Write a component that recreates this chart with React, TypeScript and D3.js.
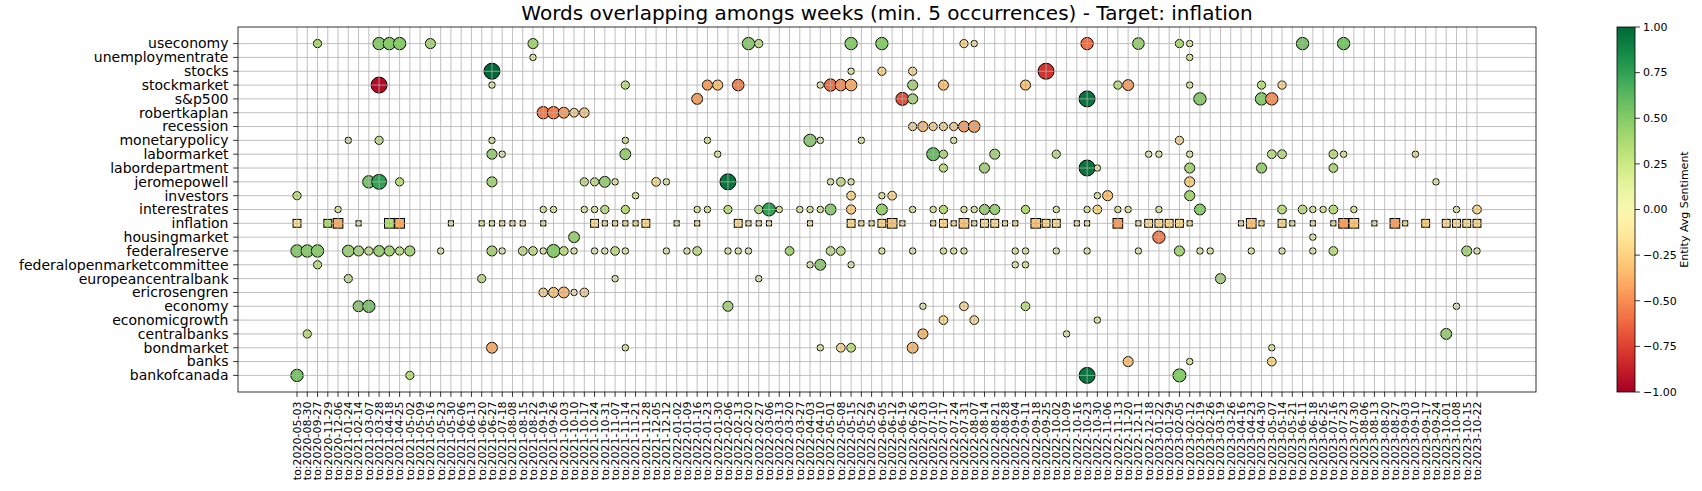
import React from "react";
import * as d3 from "d3";

const weeks: string[] = [
  "to:2020-05-03", "to:2020-08-30", "to:2020-09-27", "to:2020-11-29", "to:2020-12-06",
  "to:2021-01-24", "to:2021-02-14", "to:2021-03-07", "to:2021-03-28", "to:2021-04-18",
  "to:2021-04-25", "to:2021-05-02", "to:2021-05-09", "to:2021-05-16", "to:2021-05-23",
  "to:2021-05-30", "to:2021-06-06", "to:2021-06-13", "to:2021-06-20", "to:2021-06-27",
  "to:2021-07-18", "to:2021-08-08", "to:2021-08-15", "to:2021-08-22", "to:2021-09-19",
  "to:2021-09-26", "to:2021-10-03", "to:2021-10-10", "to:2021-10-17", "to:2021-10-24",
  "to:2021-10-31", "to:2021-11-07", "to:2021-11-14", "to:2021-11-21", "to:2021-11-28",
  "to:2021-12-05", "to:2021-12-12", "to:2022-01-02", "to:2022-01-09", "to:2022-01-16",
  "to:2022-01-23", "to:2022-01-30", "to:2022-02-06", "to:2022-02-13", "to:2022-02-20",
  "to:2022-02-27", "to:2022-03-06", "to:2022-03-13", "to:2022-03-20", "to:2022-03-27",
  "to:2022-04-03", "to:2022-04-10", "to:2022-05-01", "to:2022-05-08", "to:2022-05-15",
  "to:2022-05-22", "to:2022-05-29", "to:2022-06-05", "to:2022-06-12", "to:2022-06-19",
  "to:2022-06-26", "to:2022-07-03", "to:2022-07-10", "to:2022-07-17", "to:2022-07-24",
  "to:2022-07-31", "to:2022-08-07", "to:2022-08-14", "to:2022-08-21", "to:2022-08-28",
  "to:2022-09-04", "to:2022-09-11", "to:2022-09-18", "to:2022-09-25", "to:2022-10-02",
  "to:2022-10-09", "to:2022-10-16", "to:2022-10-23", "to:2022-10-30", "to:2022-11-06",
  "to:2022-11-13", "to:2022-11-20", "to:2022-12-11", "to:2022-12-18", "to:2023-01-22",
  "to:2023-01-29", "to:2023-02-05", "to:2023-02-12", "to:2023-02-19", "to:2023-02-26",
  "to:2023-03-19", "to:2023-03-26", "to:2023-04-16", "to:2023-04-23", "to:2023-04-30",
  "to:2023-05-07", "to:2023-05-14", "to:2023-05-21", "to:2023-06-11", "to:2023-06-18",
  "to:2023-06-25", "to:2023-07-16", "to:2023-07-23", "to:2023-07-30", "to:2023-08-06",
  "to:2023-08-13", "to:2023-08-20", "to:2023-08-27", "to:2023-09-03", "to:2023-09-10",
  "to:2023-09-17", "to:2023-09-24", "to:2023-10-01", "to:2023-10-08", "to:2023-10-15",
  "to:2023-10-22",
];

const words: string[] = [
  "useconomy", "unemploymentrate", "stocks", "stockmarket", "s&p500", "robertkaplan",
  "recession", "monetarypolicy", "labormarket", "labordepartment", "jeromepowell",
  "investors", "interestrates", "inflation", "housingmarket", "federalreserve",
  "federalopenmarketcommittee", "europeancentralbank", "ericrosengren", "economy",
  "economicgrowth", "centralbanks", "bondmarket", "banks", "bankofcanada",
];

const targetWord = "inflation";

// [week index, occurrences, average sentiment]
type Pt = [number, number, number];

const useconomy: Pt[] = [
  [2, 8, 0.35], [8, 18, 0.5], [9, 18, 0.5], [10, 18, 0.5], [13, 12, 0.4], [23, 12, 0.4],
  [44, 18, 0.5], [45, 8, 0.3], [54, 18, 0.5], [57, 18, 0.5], [65, 8, -0.2], [66, 5, -0.1],
  [77, 18, -0.6], [82, 16, 0.45], [86, 8, 0.35], [87, 5, 0.1], [98, 18, 0.55], [102, 18, 0.55],
];
const unemploymentrate: Pt[] = [[23, 5, 0.1], [87, 5, 0.1]];
const stocks: Pt[] = [[19, 30, 1.0], [54, 5, 0.1], [57, 8, -0.2], [60, 8, -0.2], [73, 30, -0.8]];
const stockmarket: Pt[] = [
  [8, 30, -0.95], [19, 5, 0.1], [32, 8, 0.3], [40, 12, -0.45], [41, 12, -0.3], [43, 16, -0.55],
  [51, 5, 0.0], [52, 18, -0.6], [53, 16, -0.5], [54, 16, -0.4], [60, 12, 0.4], [63, 12, -0.3],
  [71, 12, -0.3], [80, 8, 0.3], [81, 14, -0.45], [87, 5, 0.1], [94, 8, 0.3], [96, 8, -0.2],
];
const sp500: Pt[] = [
  [39, 14, -0.45], [59, 20, -0.7], [60, 12, 0.4], [77, 30, 0.95], [88, 18, 0.5], [94, 18, 0.5], [95, 18, -0.5],
];
const robertkaplan: Pt[] = [[24, 18, -0.55], [25, 18, -0.55], [26, 14, -0.45], [27, 9, -0.25], [28, 11, -0.3]];
const recession: Pt[] = [
  [60, 8, -0.25], [61, 12, -0.35], [62, 8, -0.25], [63, 8, -0.25], [64, 8, -0.25], [65, 14, -0.45], [66, 16, -0.45],
];
const monetarypolicy: Pt[] = [
  [5, 5, 0.2], [8, 8, 0.3], [19, 5, 0.2], [32, 5, 0.2], [40, 5, 0.1], [50, 18, 0.5], [51, 5, 0.1],
  [55, 5, 0.1], [64, 5, 0.1], [86, 8, -0.2],
];
const labormarket: Pt[] = [
  [19, 12, 0.45], [20, 5, 0.1], [32, 14, 0.45], [41, 5, 0.1], [62, 20, 0.6], [63, 8, 0.35], [68, 12, 0.4],
  [74, 8, 0.3], [83, 5, 0.1], [84, 5, 0.1], [87, 5, 0.1], [95, 9, 0.3], [96, 9, 0.3], [101, 9, 0.3],
  [102, 5, 0.1], [109, 5, -0.1],
];
const labordepartment: Pt[] = [
  [63, 8, 0.3], [67, 12, 0.4], [77, 30, 0.95], [78, 5, 0.1], [87, 12, 0.4], [94, 12, 0.45], [101, 9, 0.35],
];
const jeromepowell: Pt[] = [
  [7, 18, 0.55], [8, 26, 0.75], [10, 8, 0.3], [19, 12, 0.4], [28, 8, 0.3], [29, 8, 0.3], [30, 14, 0.45],
  [31, 5, 0.1], [35, 9, -0.2], [36, 5, 0.1], [42, 30, 0.95], [52, 5, 0.1], [53, 9, 0.3], [54, 5, 0.1],
  [87, 12, -0.25], [111, 5, 0.1],
];
const investors: Pt[] = [
  [0, 8, 0.3], [33, 5, 0.1], [54, 9, -0.2], [57, 5, 0.1], [58, 9, -0.2], [78, 5, 0.1], [79, 12, -0.3], [87, 12, 0.4],
];
const interestrates: Pt[] = [
  [4, 5, 0.1], [24, 5, 0.1], [25, 5, 0.1], [28, 5, 0.1], [29, 5, 0.1], [30, 8, 0.3], [32, 8, 0.3],
  [39, 5, 0.1], [40, 5, 0.1], [42, 8, 0.3], [45, 8, 0.3], [46, 20, 0.75], [47, 5, 0.1], [49, 5, 0.1],
  [50, 5, 0.1], [51, 5, 0.1], [52, 14, 0.5], [54, 10, -0.25], [57, 14, 0.45], [60, 5, 0.1], [62, 5, 0.1],
  [63, 8, 0.3], [65, 5, 0.1], [66, 5, 0.1], [67, 12, 0.45], [68, 12, 0.45], [71, 8, 0.3], [74, 5, 0.1],
  [77, 5, 0.1], [78, 9, -0.2], [80, 5, 0.1], [81, 5, 0.1], [84, 5, 0.1], [88, 14, 0.5], [96, 9, 0.3],
  [98, 9, 0.3], [99, 5, 0.1], [100, 5, 0.1], [101, 9, 0.3], [103, 5, 0.1], [113, 5, 0.1], [115, 9, -0.2],
];
const inflation: Pt[] = [
  [0, 12, -0.15], [3, 12, 0.35], [4, 18, -0.4], [6, 5, 0.1], [9, 18, 0.35], [10, 18, -0.4], [15, 5, 0.1],
  [18, 5, 0.1], [19, 5, 0.1], [20, 5, -0.1], [21, 5, -0.1], [22, 5, -0.1], [24, 5, -0.1], [29, 12, -0.2],
  [30, 5, -0.1], [31, 5, -0.1], [32, 5, -0.1], [33, 5, -0.1], [34, 12, -0.2], [37, 5, -0.1], [39, 5, -0.1],
  [43, 12, -0.2], [44, 5, -0.1], [45, 5, -0.1], [46, 5, -0.1], [50, 5, -0.1], [54, 12, -0.2], [55, 5, -0.1],
  [56, 5, -0.1], [57, 12, -0.2], [58, 18, -0.3], [59, 5, -0.1], [62, 5, -0.1], [63, 12, -0.2], [64, 5, -0.1],
  [65, 18, -0.3], [66, 5, -0.1], [67, 12, -0.2], [68, 12, -0.2], [69, 5, -0.1], [70, 5, -0.1], [72, 18, -0.3],
  [73, 12, -0.2], [74, 12, -0.2], [76, 5, -0.1], [77, 5, -0.1], [80, 18, -0.45], [82, 5, -0.1], [83, 12, -0.2],
  [84, 12, -0.2], [85, 12, -0.2], [86, 12, -0.2], [87, 5, -0.1], [92, 5, -0.1], [93, 18, -0.3], [94, 5, -0.1],
  [96, 12, -0.2], [97, 5, -0.1], [99, 5, -0.1], [101, 5, -0.1], [102, 18, -0.45], [103, 18, -0.3], [105, 5, -0.1],
  [107, 18, -0.45], [108, 5, -0.1], [110, 12, -0.25], [112, 12, -0.2], [113, 12, -0.2], [114, 12, -0.2], [115, 12, -0.2],
];
const housingmarket: Pt[] = [[27, 14, 0.45], [84, 18, -0.55], [99, 5, 0.1]];
const federalreserve: Pt[] = [
  [0, 18, 0.5], [1, 18, 0.5], [2, 18, 0.5], [5, 16, 0.45], [6, 12, 0.4], [7, 8, 0.3], [8, 14, 0.45],
  [9, 12, 0.4], [10, 8, 0.3], [11, 12, 0.4], [14, 5, 0.1], [19, 12, 0.4], [20, 5, 0.1], [22, 9, 0.3],
  [23, 9, 0.3], [24, 5, 0.1], [25, 20, 0.5], [26, 9, 0.3], [27, 5, 0.1], [29, 5, 0.1], [30, 5, 0.1],
  [31, 9, 0.3], [32, 5, 0.1], [36, 5, 0.1], [38, 5, 0.1], [39, 9, 0.3], [42, 5, 0.1], [43, 5, 0.1],
  [44, 5, 0.1], [48, 9, 0.4], [52, 9, 0.3], [53, 9, 0.3], [57, 5, 0.1], [60, 5, 0.1], [63, 5, 0.1],
  [64, 5, 0.1], [65, 5, 0.1], [70, 5, 0.1], [71, 5, 0.1], [74, 5, 0.1], [77, 5, 0.1], [82, 5, 0.1],
  [86, 12, 0.4], [88, 5, 0.1], [89, 5, 0.1], [93, 5, 0.1], [96, 5, 0.1], [99, 5, 0.1], [101, 9, 0.3],
  [114, 12, 0.4], [115, 5, 0.1],
];
const federalopenmarketcommittee: Pt[] = [[2, 8, 0.3], [50, 5, 0.1], [51, 14, 0.5], [54, 5, 0.1], [70, 5, 0.1], [71, 5, 0.1]];
const europeancentralbank: Pt[] = [[5, 8, 0.3], [18, 8, 0.3], [31, 5, 0.1], [45, 5, 0.1], [90, 12, 0.4]];
const ericrosengren: Pt[] = [[24, 9, -0.25], [25, 12, -0.3], [26, 14, -0.35], [27, 5, -0.1], [28, 9, -0.25]];
const economy: Pt[] = [[6, 14, 0.5], [7, 18, 0.55], [42, 12, 0.4], [61, 5, 0.1], [65, 9, -0.2], [71, 9, 0.3], [113, 5, 0.1]];
const economicgrowth: Pt[] = [[63, 9, -0.2], [66, 9, -0.2], [78, 5, 0.1]];
const centralbanks: Pt[] = [[1, 8, 0.3], [61, 12, -0.35], [75, 5, 0.1], [112, 14, 0.45]];
const bondmarket: Pt[] = [[19, 14, -0.4], [32, 5, 0.1], [51, 5, 0.1], [53, 9, -0.2], [54, 9, 0.3], [60, 14, -0.35], [95, 5, 0.1]];
const banks: Pt[] = [[81, 12, -0.3], [87, 5, 0.1], [95, 9, -0.2]];
const bankofcanada: Pt[] = [[0, 18, 0.55], [11, 8, 0.3], [77, 30, 0.95], [86, 20, 0.5]];

const seriesByWord: Record<string, Pt[]> = {
  useconomy, unemploymentrate, stocks, stockmarket, "s&p500": sp500, robertkaplan, recession,
  monetarypolicy, labormarket, labordepartment, jeromepowell, investors, interestrates, inflation,
  housingmarket, federalreserve, federalopenmarketcommittee, europeancentralbank, ericrosengren,
  economy, economicgrowth, centralbanks, bondmarket, banks, bankofcanada,
};

const colorbarTicks = [1, 0.75, 0.5, 0.25, 0, -0.25, -0.5, -0.75, -1];
const titleText = "Words overlapping amongs weeks (min. 5 occurrences) - Target: inflation";
const colorbarLabel = "Entity Avg Sentiment";

export default function App() {
  const W = 1702, H = 491;
  const plot = { left: 238, right: 1536, top: 27, bottom: 392 };
  const font = "'DejaVu Sans', sans-serif";

  const x = d3.scalePoint<string>().domain(weeks).range([plot.left, plot.right]).padding(5.75);
  const y = d3.scalePoint<string>().domain(words).range([plot.top, plot.bottom]).padding(1.2);
  const r = d3.scaleSqrt().domain([0, 30]).range([0, 8]);
  const color = d3.scaleSequential(d3.interpolateRdYlGn).domain([-1, 1]);
  const cbX = 1617, cbW = 18;
  const cbY = d3.scaleLinear().domain([-1, 1]).range([plot.bottom, plot.top]);
  const fmt = d3.format(".2f");
  const stops = d3.range(0, 1.0001, 0.05);

  const marks: JSX.Element[] = [];
  words.forEach((w) => {
    const pts = seriesByWord[w] || [];
    pts.forEach(([wi, cnt, sent], k) => {
      const cx = x(weeks[wi]) as number;
      const cy = y(w) as number;
      const rad = r(cnt);
      const fill = color(sent);
      if (w === targetWord) {
        const s = rad * 2 * 0.78;
        marks.push(
          <rect key={w + k} x={cx - s / 2} y={cy - s / 2} width={s} height={s}
            fill={fill} stroke="#000" strokeWidth={1} />
        );
      } else {
        marks.push(
          <circle key={w + k} cx={cx} cy={cy} r={rad} fill={fill} stroke="#000" strokeWidth={1} />
        );
      }
    });
  });

  return (
    <svg width={W} height={H} style={{ position: "fixed", left: 0, top: 0, background: "#fff" }}
      fontFamily={font}>
      <rect x={0} y={0} width={W} height={H} fill="#fff" />
      <text x={(plot.left + plot.right) / 2} y={20} textAnchor="middle" fontSize={20} fill="#000">
        {titleText}
      </text>
      {marks}
      <g stroke="#b0b0b0" strokeWidth={0.8}>
        {weeks.map((wk) => (
          <line key={wk} x1={x(wk)} x2={x(wk)} y1={plot.top} y2={plot.bottom} />
        ))}
        {words.map((w) => (
          <line key={w} x1={plot.left} x2={plot.right} y1={y(w)} y2={y(w)} />
        ))}
      </g>
      <rect x={plot.left} y={plot.top} width={plot.right - plot.left} height={plot.bottom - plot.top}
        fill="none" stroke="#000" strokeWidth={0.8} />
      <g stroke="#000" strokeWidth={0.8}>
        {weeks.map((wk) => (
          <line key={wk} x1={x(wk)} x2={x(wk)} y1={plot.bottom} y2={plot.bottom + 4.9} />
        ))}
        {words.map((w) => (
          <line key={w} x1={plot.left - 4.9} x2={plot.left} y1={y(w)} y2={y(w)} />
        ))}
      </g>
      {weeks.map((wk) => (
        <text key={wk} transform={`translate(${x(wk)},${plot.bottom + 9.5}) rotate(-90)`}
          textAnchor="end" dy="0.35em" fontSize={11} fill="#000">{wk}</text>
      ))}
      {words.map((w) => (
        <text key={w} x={plot.left - 9.5} y={y(w)} dy="0.35em" textAnchor="end" fontSize={14} fill="#000">{w}</text>
      ))}
      <defs>
        <linearGradient id="cbgrad" x1="0" y1="1" x2="0" y2="0">
          {stops.map((t) => (
            <stop key={t} offset={t} stopColor={d3.interpolateRdYlGn(t)} />
          ))}
        </linearGradient>
      </defs>
      <rect x={cbX} y={plot.top} width={cbW} height={plot.bottom - plot.top} fill="url(#cbgrad)"
        stroke="#000" strokeWidth={0.8} />
      {colorbarTicks.map((t) => (
        <g key={t}>
          <line x1={cbX + cbW} x2={cbX + cbW + 4.9} y1={cbY(t)} y2={cbY(t)} stroke="#000" strokeWidth={0.8} />
          <text x={cbX + cbW + 8} y={cbY(t)} dy="0.35em" fontSize={11} fill="#000">{fmt(t)}</text>
        </g>
      ))}
      <text transform={`translate(1688,${(plot.top + plot.bottom) / 2}) rotate(-90)`} textAnchor="middle"
        fontSize={11} fill="#000">{colorbarLabel}</text>
    </svg>
  );
}
